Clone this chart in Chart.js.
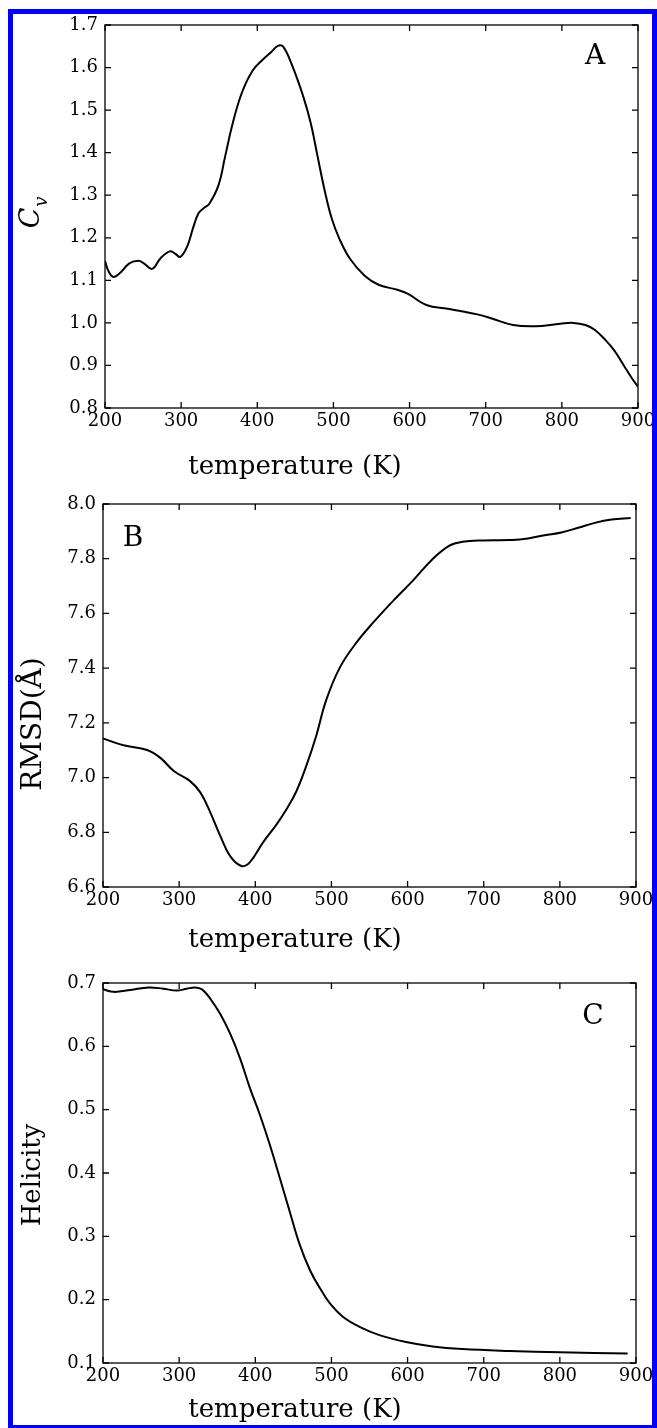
<!DOCTYPE html>
<html>
<head>
<meta charset="utf-8">
<script src="https://cdn.jsdelivr.net/npm/chart.js@4.4.1/dist/chart.umd.min.js"></script>
<style>
  html, body { margin: 0; padding: 0; background: #fff; }
  #page { position: relative; width: 657px; height: 1428px; overflow: hidden; }
  #page canvas { position: absolute; left: 0; }
  #frame { position: absolute; left: 8px; top: 9px; width: 649px; height: 1419px;
           box-sizing: border-box; border: 5px solid #0000f5; border-bottom-width: 3px; pointer-events: none; }
</style>
</head>
<body>
<div id="page">
  <canvas id="chartA" width="657" height="490" style="top:0px"></canvas>
  <canvas id="chartB" width="657" height="470" style="top:490px"></canvas>
  <canvas id="chartC" width="657" height="468" style="top:960px"></canvas>
  <div id="frame"></div>
</div>
<script>
// temperature axis
var xTicks = [200, 300, 400, 500, 600, 700, 800, 900];

// A: heat capacity
var tempA = [200, 205, 211, 220, 232, 244, 251, 262, 273, 285, 292, 299, 308, 316, 323, 330, 337, 349, 358, 368,
             380, 394, 408, 418, 427, 434, 446, 460, 470, 479, 489, 498, 508, 522, 541, 560, 584, 598, 622, 650,
             670, 689, 707, 736, 765, 798, 815, 831, 843, 856, 869, 882, 892, 900];
var cvValues = [1.145, 1.120, 1.108, 1.118, 1.140, 1.146, 1.140, 1.127, 1.152, 1.168, 1.163, 1.155, 1.180, 1.225, 1.258, 1.270, 1.280, 1.323, 1.393, 1.471,
                1.542, 1.593, 1.620, 1.636, 1.651, 1.649, 1.604, 1.534, 1.471, 1.393, 1.307, 1.244, 1.197, 1.150, 1.111, 1.089, 1.078, 1.068, 1.042, 1.033,
                1.027, 1.020, 1.011, 0.995, 0.992, 0.998, 1.000, 0.995, 0.984, 0.962, 0.935, 0.898, 0.870, 0.850];
var cvTicks = [0.8, 0.9, 1.0, 1.1, 1.2, 1.3, 1.4, 1.5, 1.6, 1.7];

// B: RMSD
var tempB = [200, 227, 258, 275, 293, 314, 328, 341, 354, 367, 382, 393, 410, 428, 441, 454, 467, 480, 493, 511,
             533, 555, 581, 607, 633, 655, 672, 699, 734, 750, 780, 802, 824, 846, 868, 893];
var rmsdValues = [7.143, 7.118, 7.101, 7.073, 7.024, 6.988, 6.945, 6.872, 6.787, 6.713, 6.677, 6.691, 6.762, 6.829, 6.884, 6.950, 7.043, 7.152, 7.282, 7.402,
                  7.494, 7.567, 7.646, 7.720, 7.799, 7.848, 7.862, 7.867, 7.868, 7.871, 7.886, 7.896, 7.913, 7.931, 7.943, 7.949];
var rmsdTicks = [6.6, 6.8, 7.0, 7.2, 7.4, 7.6, 7.8, 8.0];

// C: helicity
var tempC = [200, 214, 236, 260, 279, 297, 310, 321, 330, 341, 354, 367, 380, 393, 406, 419, 432, 445, 458, 472,
             485, 498, 515, 537, 563, 598, 633, 672, 734, 800, 889];
var helicityValues = [0.690, 0.686, 0.689, 0.693, 0.691, 0.688, 0.691, 0.693, 0.690, 0.675, 0.651, 0.620, 0.581, 0.534, 0.492, 0.445, 0.393, 0.340, 0.288, 0.246,
                      0.218, 0.194, 0.173, 0.157, 0.144, 0.133, 0.126, 0.122, 0.119, 0.117, 0.115];
var helicityTicks = [0.1, 0.2, 0.3, 0.4, 0.5, 0.6, 0.7];

var serif = "'DejaVu Serif', serif";

// frame with inward ticks on all four sides, plus titles and panel letter
function decorations(txt) {
  return {
    id: 'decorations',
    afterDraw: function (chart) {
      var ctx = chart.ctx, a = chart.chartArea;
      var xs = chart.scales.x, ys = chart.scales.y;
      ctx.save();
      ctx.strokeStyle = '#000';
      ctx.lineWidth = 1.3;
      ctx.strokeRect(a.left, a.top, a.right - a.left, a.bottom - a.top);
      ctx.beginPath();
      xs.ticks.forEach(function (t) {
        var px = xs.getPixelForValue(t.value);
        ctx.moveTo(px, a.bottom); ctx.lineTo(px, a.bottom - 6);
        ctx.moveTo(px, a.top); ctx.lineTo(px, a.top + 6);
      });
      ys.ticks.forEach(function (t) {
        var py = ys.getPixelForValue(t.value);
        ctx.moveTo(a.left, py); ctx.lineTo(a.left + 6, py);
        ctx.moveTo(a.right, py); ctx.lineTo(a.right - 6, py);
      });
      ctx.stroke();

      ctx.fillStyle = '#000';
      // x title
      ctx.font = '26px ' + serif;
      ctx.textAlign = 'center';
      ctx.textBaseline = 'alphabetic';
      ctx.fillText('temperature (K)', 295, txt.xTitleY);

      // panel letter
      ctx.font = '28px ' + serif;
      ctx.textBaseline = 'middle';
      ctx.fillText(txt.letter, txt.letterX, txt.letterY);

      // y title (rotated)
      ctx.translate(txt.yTitleX, txt.yTitleY);
      ctx.rotate(-Math.PI / 2);
      ctx.textBaseline = 'alphabetic';
      if (txt.yTitle === 'Cv') {
        ctx.textAlign = 'left';
        ctx.font = 'italic 27px ' + serif;
        var w = ctx.measureText('C').width;
        ctx.fillText('C', -w / 2 - 5, 0);
        ctx.font = 'italic 18px ' + serif;
        ctx.fillText('v', w / 2 - 4, 8);
      } else {
        ctx.textAlign = 'center';
        ctx.font = txt.yFont + 'px ' + serif;
        ctx.fillText(txt.yTitle, 0, 0);
      }
      ctx.restore();
    }
  };
}

function panel(id, temps, vals, yTicks, geo, txt) {
  new Chart(document.getElementById(id), {
    type: 'line',
    data: {
      datasets: [{
        data: temps.map(function (t, i) { return { x: t, y: vals[i] }; }),
        borderColor: '#000',
        borderWidth: 2,
        pointRadius: 0,
        fill: false,
        tension: 0.4
      }]
    },
    options: {
      responsive: false,
      animation: false,
      devicePixelRatio: 1,
      layout: { padding: { top: geo.top, right: geo.right, left: 0, bottom: 0 } },
      plugins: { legend: { display: false }, tooltip: { enabled: false } },
      scales: {
        x: {
          type: 'linear', min: 200, max: 900,
          afterBuildTicks: function (s) { s.ticks = xTicks.map(function (v) { return { value: v }; }); },
          afterFit: function (s) { s.height = geo.xh; s.paddingLeft = 0; s.paddingRight = 0; },
          grid: { display: false, drawTicks: false },
          border: { display: false },
          ticks: { color: '#000', font: { family: serif, size: 18 }, padding: 3, maxRotation: 0, autoSkip: false,
                   callback: function (v) { return String(v); } }
        },
        y: {
          type: 'linear', min: yTicks[0], max: yTicks[yTicks.length - 1],
          afterBuildTicks: function (s) { s.ticks = yTicks.map(function (v) { return { value: v }; }); },
          afterFit: function (s) { s.width = geo.left; s.paddingTop = 0; s.paddingBottom = 0; },
          grid: { display: false, drawTicks: false },
          border: { display: false },
          ticks: { color: '#000', font: { family: serif, size: 18 }, padding: 7, autoSkip: false,
                   callback: function (v) { return v.toFixed(1); } }
        }
      }
    },
    plugins: [decorations(txt)]
  });
}

panel('chartA', tempA, cvValues, cvTicks,
  { top: 25, right: 19, left: 105, xh: 82 },
  { xTitleY: 474, letter: 'A', letterX: 595, letterY: 57, yTitle: 'Cv', yTitleX: 39, yTitleY: 213 });

panel('chartB', tempB, rmsdValues, rmsdTicks,
  { top: 14, right: 21, left: 103, xh: 73 },
  { xTitleY: 457, letter: 'B', letterX: 133, letterY: 49, yTitle: 'RMSD(Å)', yFont: 28, yTitleX: 41, yTitleY: 234 });

panel('chartC', tempC, helicityValues, helicityTicks,
  { top: 23, right: 21, left: 103, xh: 65 },
  { xTitleY: 457, letter: 'C', letterX: 593, letterY: 57, yTitle: 'Helicity', yFont: 26, yTitleX: 40, yTitleY: 215 });
</script>
</body>
</html>
